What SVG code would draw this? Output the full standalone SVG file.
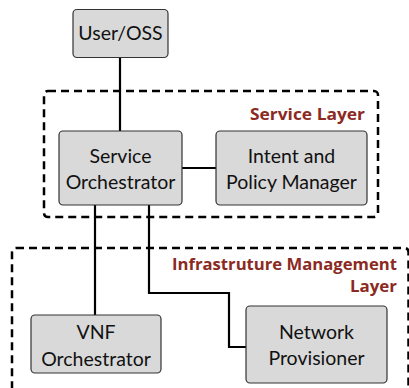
<svg xmlns="http://www.w3.org/2000/svg" width="409" height="388" viewBox="0 0 409 388">
<style>
.layer{fill:none;stroke:#000;stroke-width:2.5;stroke-dasharray:8 5}
.box{fill:#d9d9d9;stroke:#333;stroke-width:1.2}
.t{font-family:Lato,"Open Sans",sans-serif;font-size:19.5px;fill:#111;text-anchor:middle}
.lbl{font-family:"Open Sans",Lato,sans-serif;font-size:16px;font-weight:bold;fill:#8b2a22;text-anchor:end}
.c{fill:none;stroke:#000;stroke-width:2.2}
</style>
<g id="service-layer">
<rect class="layer" x="44" y="91" width="334" height="126" rx="4"/>
<text class="lbl" x="365" y="120" textLength="115" lengthAdjust="spacingAndGlyphs">Service Layer</text>
</g>
<g id="infrastructure-layer">
<rect class="layer" x="12" y="248" width="396.5" height="160" rx="4"/>
<text class="lbl" x="397" y="270" textLength="225" lengthAdjust="spacingAndGlyphs">Infrastruture Management</text>
<text class="lbl" x="397" y="292" textLength="47" lengthAdjust="spacingAndGlyphs">Layer</text>
</g>
<g id="connectors">
<line class="c" x1="120" y1="57" x2="120" y2="131"/>
<line class="c" x1="182" y1="168" x2="216" y2="168"/>
<line class="c" x1="95" y1="205" x2="95" y2="315"/>
<polyline class="c" points="149,205 149,293 229,293 229,347 246,347"/>
</g>
<g id="user-oss">
<rect class="box" x="73" y="9.5" width="95" height="48" rx="4"/>
<text class="t" x="120.5" y="40">User/OSS</text>
</g>
<g id="service-orchestrator">
<rect class="box" x="59" y="131" width="123" height="74" rx="4"/>
<text class="t" x="120.5" y="163">Service</text>
<text class="t" x="120.5" y="189">Orchestrator</text>
</g>
<g id="intent-policy-manager">
<rect class="box" x="216" y="131" width="151" height="74" rx="4"/>
<text class="t" x="291.5" y="163">Intent and</text>
<text class="t" x="291.5" y="189">Policy Manager</text>
</g>
<g id="vnf-orchestrator">
<rect class="box" x="31" y="315" width="130" height="58" rx="4"/>
<text class="t" x="96" y="339">VNF</text>
<text class="t" x="96" y="366">Orchestrator</text>
</g>
<g id="network-provisioner">
<rect class="box" x="246" y="306" width="141" height="77" rx="4"/>
<text class="t" x="316.5" y="339">Network</text>
<text class="t" x="316.5" y="365">Provisioner</text>
</g>
</svg>
